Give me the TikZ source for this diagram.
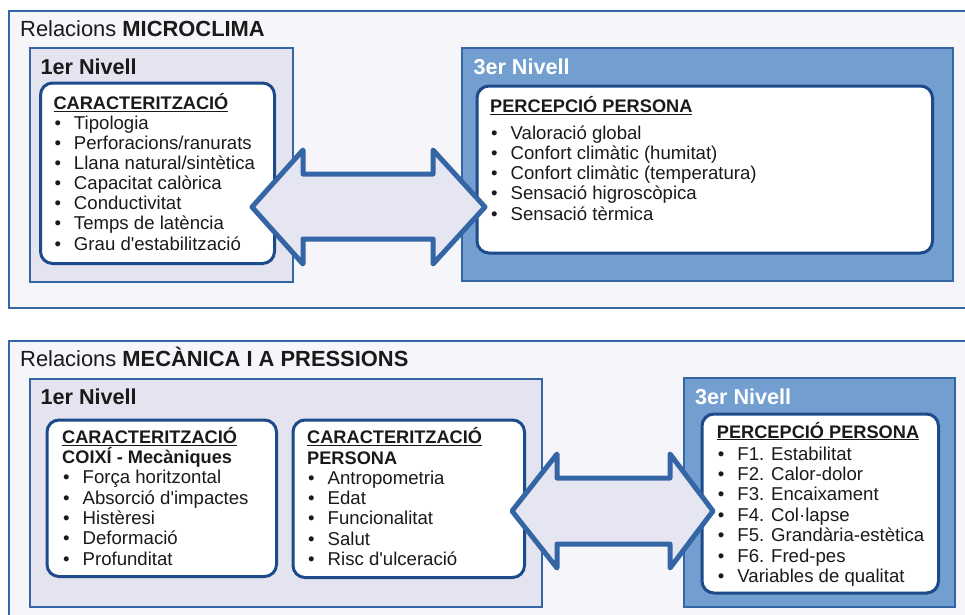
\documentclass[tikz,border=0pt]{standalone}
\usepackage{fontspec}
\setmainfont{Liberation Sans}
\definecolor{frameblue}{HTML}{3465A4}
\definecolor{framebg}{HTML}{F5F5FA}
\definecolor{lvlbg}{HTML}{E4E4F0}
\definecolor{lvlthreebg}{HTML}{729FCF}
\definecolor{navy}{HTML}{1C4A8A}
\definecolor{arrowbg}{HTML}{E6E6F2}
\definecolor{txt}{HTML}{1A1A1A}
\newcommand{\bul}[1]{\makebox[20.5pt][l]{\hspace{1pt}•}#1}
\newcommand{\hd}[1]{{\fontsize{18.2}{20}\selectfont\bfseries #1}}
\newcommand{\apo}{\textquotesingle}
\tikzset{
  frame/.style={draw=frameblue, line width=2pt, fill=framebg},
  lvlone/.style={draw=frameblue, line width=2pt, fill=lvlbg},
  lvlthree/.style={draw=frameblue, line width=2pt, fill=lvlthreebg},
  inbox/.style={draw=navy, line width=3pt, fill=white, rounded corners=12pt},
  dblarrow/.style={draw=frameblue, line width=5pt, fill=arrowbg, line join=round},
  title/.style={anchor=base west, inner sep=0pt, font=\fontsize{21.9}{24}\selectfont, text=txt},
  lvltitle/.style={anchor=base west, inner sep=0pt, font=\fontsize{21.6}{24}\selectfont\bfseries},
  listtext/.style={anchor=base west, inner sep=0pt, align=left, text=txt},
}
\begin{document}
\begin{tikzpicture}[x=1pt,y=-1pt]
\useasboundingbox[fill=white] (0,0) rectangle (965,614);
% ---------- MICROCLIMA ----------
\draw[frame] (8.5,10.5) rectangle (980,307.5);
\node[title] (t1) at (20,36) {Relacions \textbf{MICROCLIMA}};
\draw[lvlone] (29.5,48) rectangle (293,282);
\node[lvltitle, text=txt] (n1a) at (40.5,74) {1er Nivell};
\draw[inbox] (40.5,83) rectangle (274.5,263.5);
% anchored at the baseline of the last line
\node[listtext, font=\fontsize{18.6}{20.1}\selectfont] (l1) at (53.3,250) {%
\hd{\underline{CARACTERITZACIÓ}}\\
\bul{Tipologia}\\
\bul{Perforacions/ranurats}\\
\bul{Llana natural/sintètica}\\
\bul{Capacitat calòrica}\\
\bul{Conductivitat}\\
\bul{Temps de latència}\\
\bul{Grau d\apo estabilització}};
\draw[lvlthree] (462,47.5) rectangle (953,281);
\node[lvltitle, text=white] (n3a) at (473.3,74) {3er Nivell};
\draw[inbox] (477,86) rectangle (932.5,253);
\node[listtext, font=\fontsize{18.6}{20.2}\selectfont] (r1) at (490,220) {%
\hd{\underline{PERCEPCIÓ PERSONA}}\\[6.8pt]
\bul{Valoració global}\\
\bul{Confort climàtic (humitat)}\\
\bul{Confort climàtic (temperatura)}\\
\bul{Sensació higroscòpica}\\
\bul{Sensació tèrmica}};
\coordinate (a1l) at (252,207);
\coordinate (a1r) at (485,207);
\draw[dblarrow] (a1l) -- (303,150) -- (303,174) -- (433,174) -- (433,150) -- (a1r)
  -- (433,264) -- (433,239) -- (303,239) -- (303,264) -- cycle;
% ---------- MECANICA ----------
\draw[frame] (8.5,340.5) rectangle (980,630);
\node[title] (t2) at (20,366) {Relacions \textbf{MECÀNICA I A PRESSIONS}};
\draw[lvlone] (29.5,378.5) rectangle (542,607);
\node[lvltitle, text=txt] (n1b) at (40.5,404) {1er Nivell};
\draw[inbox] (47,420) rectangle (276.5,576.5);
\node[listtext, font=\fontsize{18.6}{20.3}\selectfont] (l2) at (62,565) {%
\hd{\underline{CARACTERITZACIÓ}}\\
\hd{COIXÍ - Mecàniques}\\
\bul{Força horitzontal}\\
\bul{Absorció d\apo impactes}\\
\bul{Histèresi}\\
\bul{Deformació}\\
\bul{Profunditat}};
\draw[inbox] (293,420) rectangle (524.5,577.5);
\node[listtext, font=\fontsize{18.6}{20.3}\selectfont] (m2) at (307,565.5) {%
\hd{\underline{CARACTERITZACIÓ}}\\
\hd{PERSONA}\\
\bul{Antropometria}\\
\bul{Edat}\\
\bul{Funcionalitat}\\
\bul{Salut}\\
\bul{Risc d\apo ulceració}};
\draw[lvlthree] (683.5,377.5) rectangle (955,607);
\node[lvltitle, text=white] (n3b) at (695,404) {3er Nivell};
\draw[inbox] (702,414) rectangle (938.5,593);
\node[listtext, font=\fontsize{18.6}{20.4}\selectfont] (r2) at (716.7,582.4) {%
\hd{\underline{PERCEPCIÓ PERSONA}}\\[1.6pt]
\bul{F1. Estabilitat}\\
\bul{F2. Calor-dolor}\\
\bul{F3. Encaixament}\\
\bul{F4. Col·lapse}\\
\bul{F5. Grandària-estètica}\\
\bul{F6. Fred-pes}\\
\bul{Variables de qualitat}};
\coordinate (a2l) at (512,511);
\coordinate (a2r) at (713,511);
\draw[dblarrow] (a2l) -- (557,454) -- (557,478) -- (670,478) -- (670,454) -- (a2r)
  -- (670,568) -- (670,544) -- (557,544) -- (557,568) -- cycle;
\end{tikzpicture}
\end{document}
